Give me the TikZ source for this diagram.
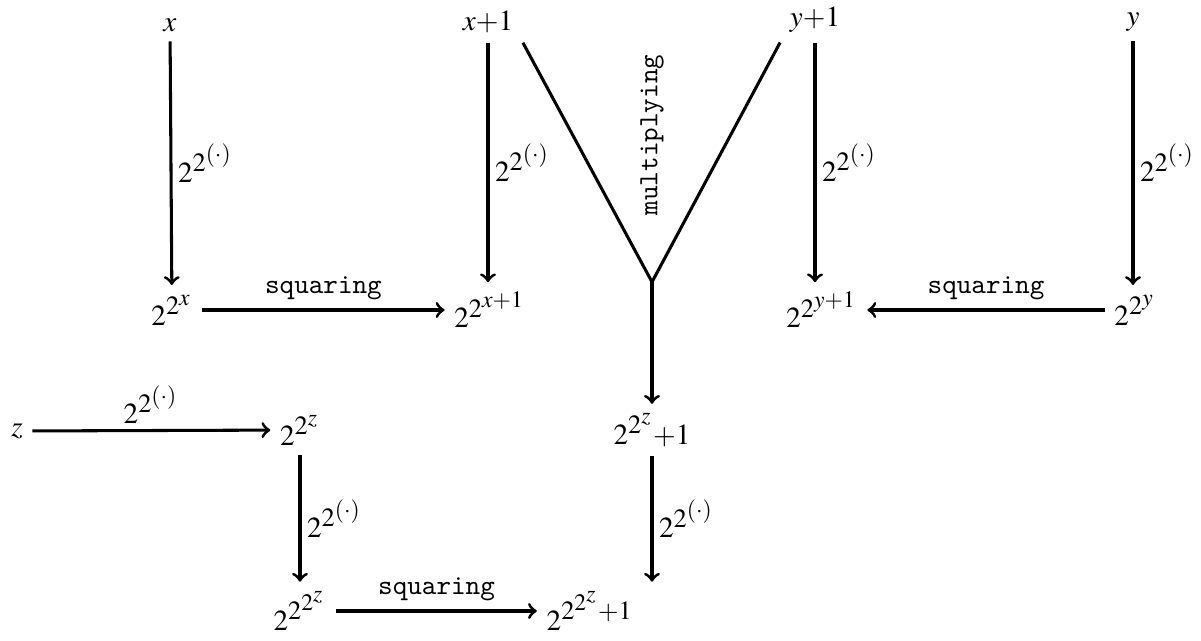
\documentclass[tikz,border=0pt]{standalone}
\usepackage{mathptmx}
\DeclareMathSizes{10}{10.5}{9.5}{8.5}
\begin{document}
\begin{tikzpicture}[x=0.36pt,y=-0.36pt,>=to,
  arr/.style={->,line width=1.1pt},
  ln/.style={line width=1.1pt},
  lab/.style={inner sep=2pt},
  op/.style={font=\ttfamily,inner sep=3pt}]
\useasboundingbox (0,0) rectangle (1201,641);
\node (x) at (170,25) {$x$};
\node (xp) at (488,22) {$x{+}1$};
\node (yp) at (815,20) {$y{+}1$};
\node (y) at (1133,22) {$y$};
\node (ex) at (172,310) {$2^{2^x}$};
\node (exp) at (490,310) {$2^{2^{x+1}}$};
\node (eyp) at (822,310) {$2^{2^{y+1}}$};
\node (ey) at (1135,310) {$2^{2^y}$};
\coordinate (m) at (652,282);
\node (ez1) at (652,430) {$2^{2^z}{+}1$};
\node (z) at (17,431) {$z$};
\node (ez) at (300,430) {$2^{2^z}$};
\node (eez) at (300,611) {$2^{2^{2^z}}$};
\node (eez1) at (590,611) {$2^{2^{2^z}{+}1}$};

\draw[arr] (x) -- node[right,lab] {$2^{2^{(\cdot)}}$} (ex);
\draw[arr] (xp) -- node[right,lab] {$2^{2^{(\cdot)}}$} (exp.north -| xp);
\draw[arr] (yp) -- node[right,lab] {$2^{2^{(\cdot)}}$} (eyp.north -| yp);
\draw[arr] (y) -- node[right,lab] {$2^{2^{(\cdot)}}$} (ey.north -| y);
\draw[arr] (ex) -- node[above,op] {squaring} (exp);
\draw[arr] (ey) -- node[above,op] {squaring} (eyp);
\draw[ln] (xp.south east) -- (m);
\draw[ln] (yp.south west) -- (m);
\draw[arr] (m) -- (ez1);
\node[op,rotate=90] (mul) at (652,135) {multiplying};
\draw[arr] (z) -- node[above,lab] {$2^{2^{(\cdot)}}$} (ez);
\draw[arr] (ez) -- node[right,lab] {$2^{2^{(\cdot)}}$} (eez.north -| ez);
\draw[arr] (ez1) -- node[right,lab] {$2^{2^{(\cdot)}}$} (eez1.north -| ez1);
\draw[arr] (eez) -- node[above,op] {squaring} (eez1);
\end{tikzpicture}
\end{document}
